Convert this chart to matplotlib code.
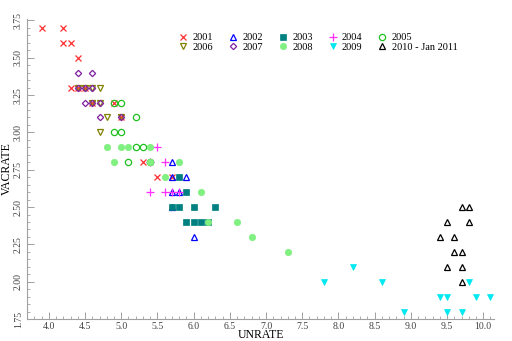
import matplotlib.pyplot as plt
from matplotlib.ticker import MultipleLocator

plt.rcParams['font.family'] = ['Liberation Serif', 'DejaVu Serif']

# unemployment rate / job openings rate pairs by year
years = ["2001", "2002", "2003", "2004", "2005",
         "2006", "2007", "2008", "2009", "2010 - Jan 2011"]

un_2001 = [3.9, 4.2, 4.2, 4.3, 4.4, 4.3, 4.4, 4.5, 4.6, 4.9, 5.0, 5.3, 5.5, 5.7]
vac_2001 = [3.7, 3.7, 3.6, 3.6, 3.5, 3.3, 3.3, 3.3, 3.2, 3.2, 3.1, 2.8, 2.7, 2.7]

un_2002 = [5.7, 5.7, 5.9, 5.7, 5.8, 5.7, 6.0]
vac_2002 = [2.8, 2.7, 2.7, 2.6, 2.6, 2.5, 2.3]

un_2003 = [5.8, 5.9, 5.7, 5.8, 6.0, 6.3, 5.9, 6.0, 6.1, 6.2]
vac_2003 = [2.7, 2.6, 2.5, 2.5, 2.5, 2.5, 2.4, 2.4, 2.4, 2.4]

un_2004 = [5.5, 5.4, 5.6, 5.4, 5.6, 5.7, 5.8]
vac_2004 = [2.9, 2.8, 2.8, 2.6, 2.6, 2.6, 2.6]

un_2005 = [4.9, 5.0, 5.2, 4.9, 5.0, 5.2, 5.3, 5.1, 5.4]
vac_2005 = [3.2, 3.2, 3.1, 3.0, 3.0, 2.9, 2.9, 2.8, 2.8]

un_2006 = [4.4, 4.5, 4.6, 4.7, 4.6, 4.7, 4.8, 5.0, 4.7]
vac_2006 = [3.3, 3.3, 3.3, 3.3, 3.2, 3.2, 3.1, 3.1, 3.0]

un_2007 = [4.4, 4.6, 4.4, 4.5, 4.6, 4.5, 4.6, 4.7, 4.7, 5.0]
vac_2007 = [3.4, 3.4, 3.3, 3.3, 3.3, 3.2, 3.2, 3.2, 3.1, 3.1]

un_2008 = [4.8, 5.0, 5.1, 5.4, 4.9, 5.4, 5.8, 5.6, 6.1, 6.2, 6.6, 6.8, 7.3]
vac_2008 = [2.9, 2.9, 2.9, 2.9, 2.8, 2.8, 2.8, 2.7, 2.6, 2.4, 2.4, 2.3, 2.2]

un_2009 = [8.2, 7.8, 8.6, 9.8, 9.4, 9.5, 9.9, 10.1, 8.9, 9.5, 9.7]
vac_2009 = [2.1, 2.0, 2.0, 2.0, 1.9, 1.9, 1.9, 1.9, 1.8, 1.8, 1.8]

un_2010 = [9.7, 9.8, 9.5, 9.8, 9.4, 9.6, 9.6, 9.7, 9.5, 9.7, 9.7]
vac_2010 = [2.5, 2.5, 2.4, 2.4, 2.3, 2.3, 2.2, 2.2, 2.1, 2.1, 2.0]

un = [un_2001, un_2002, un_2003, un_2004, un_2005,
      un_2006, un_2007, un_2008, un_2009, un_2010]
vac = [vac_2001, vac_2002, vac_2003, vac_2004, vac_2005,
       vac_2006, vac_2007, vac_2008, vac_2009, vac_2010]

# marker, colour, filled?, size
styles = [("x", "#ff3030", True, 4.8),
          ("^", "#0000ff", False, 4.5),
          ("s", "#008080", True, 4.3),
          ("+", "#ff30ff", True, 5.2),
          ("o", "#20c020", False, 4.5),
          ("v", "#808000", False, 4.5),
          ("D", "#8020a0", False, 3.2),
          ("o", "#80f080", True, 4.6),
          ("v", "#00e8f0", True, 4.5),
          ("^", "#000000", False, 4.5)]

fig = plt.figure(figsize=(5.12, 3.41), dpi=100)
ax = fig.add_axes([0.053, 0.0645, 0.912, 0.88])

handles = []
for i in range(len(years)):
    m, c, filled, size = styles[i]
    if m in ("x", "+"):
        h, = ax.plot(un[i], vac[i], ls="none", marker=m, color=c,
                     markersize=size, markeredgewidth=0.9, label=years[i])
    elif filled:
        h, = ax.plot(un[i], vac[i], ls="none", marker=m, color=c,
                     markersize=size, markeredgewidth=0.5, label=years[i])
    else:
        h, = ax.plot(un[i], vac[i], ls="none", marker=m, markerfacecolor="none",
                     markeredgecolor=c, markersize=size, markeredgewidth=0.9,
                     label=years[i])
    handles.append(h)

ax.set_xlim(3.7, 10.15)
ax.set_ylim(1.75, 3.76)

ax.xaxis.set_major_locator(MultipleLocator(0.5))
ax.xaxis.set_minor_locator(MultipleLocator(0.1))
ax.yaxis.set_major_locator(MultipleLocator(0.25))
ax.yaxis.set_minor_locator(MultipleLocator(0.05))
ax.xaxis.set_major_formatter(plt.FormatStrFormatter("%.1f"))
ax.yaxis.set_major_formatter(plt.FormatStrFormatter("%.2f"))

for s in ["top", "right"]:
    ax.spines[s].set_visible(False)
for s in ["left", "bottom"]:
    ax.spines[s].set_color("#a0a0a0")
    ax.spines[s].set_linewidth(0.8)

ax.tick_params(which="both", direction="in", color="#a0a0a0", labelsize=7,
               labelcolor="#404040")
ax.tick_params(which="major", length=5, width=0.7)
ax.tick_params(which="minor", length=2.5, width=0.6)
ax.tick_params(axis="x", which="major", pad=2)
ax.tick_params(axis="y", which="major", pad=3)
for lbl in ax.get_yticklabels():
    lbl.set_rotation(90)
    lbl.set_va("center")

ax.set_xlabel("UNRATE", fontsize=8.5, labelpad=-1)
ax.set_ylabel("VACRATE", fontsize=8.5, labelpad=1)

# two rows of five, filled column by column
order = [0, 5, 1, 6, 2, 7, 3, 8, 4, 9]
ax.legend([handles[k] for k in order], [years[k] for k in order],
          ncol=5, frameon=False, fontsize=7.5, loc="upper left",
          bbox_to_anchor=(0.338, 0.918), bbox_transform=fig.transFigure,
          handlelength=1.0, handletextpad=0.4, columnspacing=1.4,
          labelspacing=0.0, borderpad=0)

fig.savefig("out.png", dpi=100)
